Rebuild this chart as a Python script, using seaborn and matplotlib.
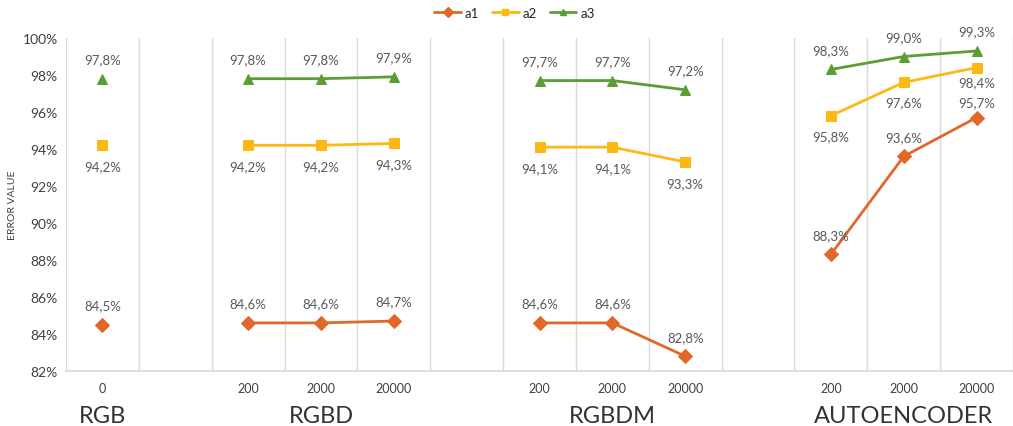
import numpy as np
import pandas as pd
import matplotlib
matplotlib.use("Agg")
import matplotlib.pyplot as plt
from matplotlib.lines import Line2D
import seaborn as sns

# Groups and their sample sizes
groups = ["RGB", "RGBD", "RGBDM", "AUTOENCODER"]
group_ticks = [["0"], ["200", "2000", "20000"], ["200", "2000", "20000"], ["200", "2000", "20000"]]

# Values per series, in group order
a1 = [84.5, 84.6, 84.6, 84.7, 84.6, 84.6, 82.8, 88.3, 93.6, 95.7]
a2 = [94.2, 94.2, 94.2, 94.3, 94.1, 94.1, 93.3, 95.8, 97.6, 98.4]
a3 = [97.8, 97.8, 97.8, 97.9, 97.7, 97.7, 97.2, 98.3, 99.0, 99.3]

series_names = ["a1", "a2", "a3"]
colors = {"a1": "#E2682A", "a2": "#FDB913", "a3": "#5C9E34"}
markers = {"a1": "D", "a2": "s", "a3": "^"}
# value labels: a1/a3 above the marker, a2 below
label_offset = {"a1": 14, "a2": -15, "a3": 14}
# tighter labels where the AUTOENCODER lines run close together
special_offset = {("a2", 9): -10.5, ("a1", 9): 11, ("a2", 8): -14, ("a1", 8): 14}

# Category slot for each point: one empty slot between groups
positions, point_group, tick_text = [], [], []
slot = 0
for g, ticks in zip(groups, group_ticks):
    for t in ticks:
        positions.append(slot)
        point_group.append(g)
        tick_text.append(t)
        slot += 1
    slot += 1

rows = []
for name, vals in zip(series_names, [a1, a2, a3]):
    for i, (p, g, v) in enumerate(zip(positions, point_group, vals)):
        rows.append({"idx": i, "pos": p, "group": g, "series": name, "value": v})
df = pd.DataFrame(rows)

sns.set_theme(style="white")
plt.rcParams["font.family"] = ["Lato", "DejaVu Sans"]

fig = plt.figure(figsize=(10.13, 4.27), dpi=100)
ax = fig.add_axes([66 / 1013, 1 - 372 / 427, (1013 - 66) / 1013, (372 - 39) / 427])

# Vertical separators between category slots
for b in np.arange(-0.5, 13.0, 1.0):
    ax.axvline(b, color="#D9D9D9", lw=1.0, zorder=0)

for name in series_names:
    sub = df[df.series == name]
    sns.lineplot(data=sub, x="pos", y="value", units="group", estimator=None,
                 color=colors[name], marker=markers[name], markersize=7,
                 markeredgecolor=colors[name], lw=2.0, ax=ax, legend=False, sort=False)
    for _, r in sub.iterrows():
        off = special_offset.get((name, r.idx), label_offset[name])
        ax.annotate(f"{r.value:.1f}%".replace(".", ","), (r.pos, r.value),
                    xytext=(0, off), textcoords="offset points",
                    ha="center", va="center", fontsize=9.5, color="#595959")

ax.set_xlim(-0.5, 12.5)
ax.set_ylim(82, 100)
ax.set_yticks(np.arange(82, 101, 2))
ax.set_yticklabels([f"{v}%" for v in range(82, 101, 2)], fontsize=10, color="#404040")
ax.set_xticks(positions)
ax.set_xticklabels(tick_text, fontsize=9, color="#404040")
ax.tick_params(axis="x", length=0, pad=8)
ax.tick_params(axis="y", length=0, pad=6)
ax.set_xlabel("")
ax.set_ylabel("ERROR VALUE", fontsize=7.5, color="#404040", labelpad=4)
for s in ["top", "right", "left"]:
    ax.spines[s].set_visible(False)
ax.spines["bottom"].set_color("#D9D9D9")

# Group captions below the sample-size ticks
start = 0
for g, ticks in zip(groups, group_ticks):
    centre = positions[start + len(ticks) // 2]
    ax.text(centre, -0.135, g, transform=ax.get_xaxis_transform(), ha="center",
            va="center", fontsize=17, color="#333333")
    start += len(ticks)

# Legend above the plot
handles = [Line2D([0], [0], color=colors[n], marker=markers[n], markersize=5, lw=2)
           for n in series_names]
fig.legend(handles, series_names, loc="center", bbox_to_anchor=(0.508, 0.968), ncol=3,
           frameon=False, fontsize=9.5, handlelength=2.0, columnspacing=1.0,
           handletextpad=0.3)

fig.savefig("out.png", dpi=100)
